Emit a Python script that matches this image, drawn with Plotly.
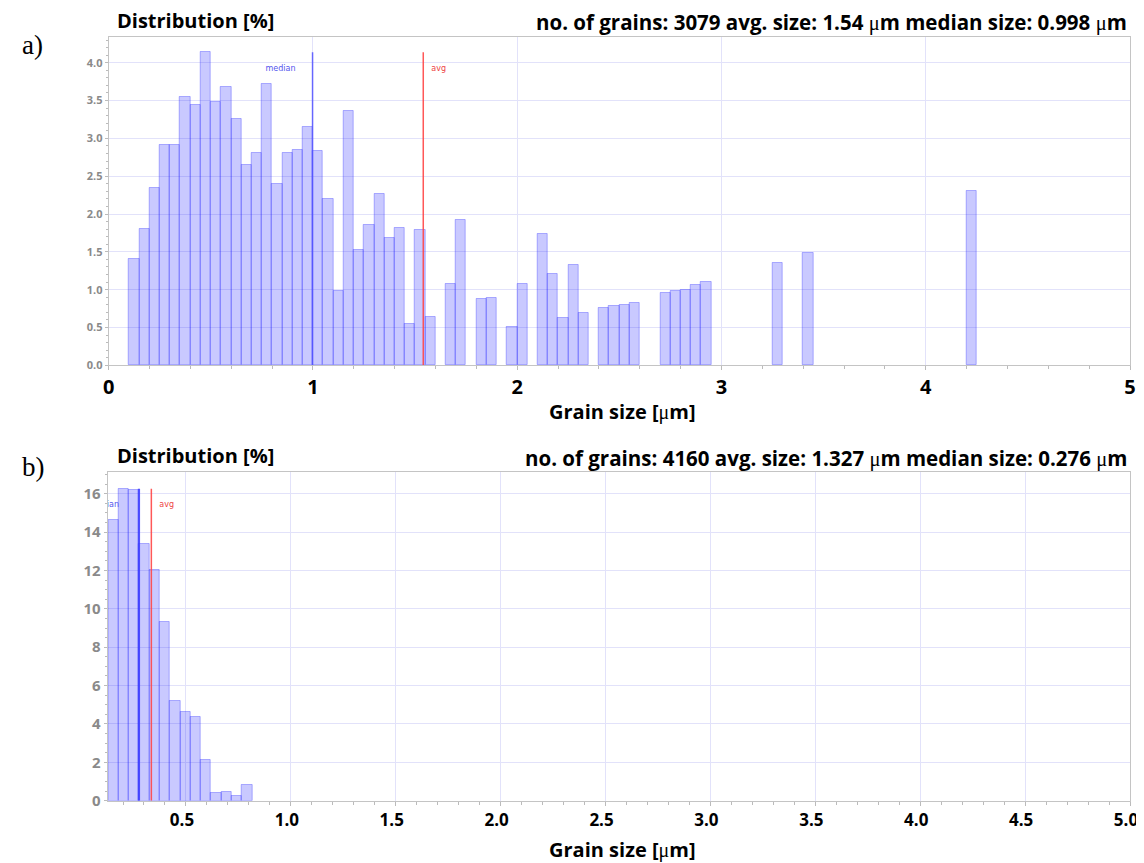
import plotly.graph_objects as go

# ---------------- data ----------------
# a) bins of width 0.05 um (lower edges) and distribution [%]
a_bin_start = [0.10, 0.15, 0.20, 0.25, 0.30, 0.35, 0.40, 0.45, 0.50, 0.55,
               0.60, 0.65, 0.70, 0.75, 0.80, 0.85, 0.90, 0.95, 1.00, 1.05,
               1.10, 1.15, 1.20, 1.25, 1.30, 1.35, 1.40, 1.45, 1.50, 1.55,
               1.65, 1.70, 1.80, 1.85, 1.95, 2.00, 2.10, 2.15, 2.20, 2.25,
               2.30, 2.40, 2.45, 2.50, 2.55, 2.70, 2.75, 2.80, 2.85, 2.90,
               3.25, 3.40, 4.20]
a_values = [1.41, 1.80, 2.34, 2.91, 2.91, 3.55, 3.44, 4.14, 3.48, 3.68,
            3.26, 2.65, 2.81, 3.72, 2.40, 2.81, 2.84, 3.15, 2.83, 2.20,
            0.98, 3.36, 1.52, 1.85, 2.26, 1.68, 1.82, 0.54, 1.79, 0.64,
            1.07, 1.92, 0.88, 0.89, 0.51, 1.07, 1.74, 1.21, 0.62, 1.33,
            0.69, 0.76, 0.78, 0.80, 0.83, 0.95, 0.98, 1.00, 1.06, 1.10,
            1.35, 1.49, 2.30]
a_bin_width = 0.05
a_median = 0.998
a_avg = 1.54
a_stats = "no. of grains: 3079 avg. size: 1.54 {mu}m median size: 0.998 {mu}m"

# b) bins (lower edges) and distribution [%]
b_bin_start = [0.130, 0.179, 0.228, 0.277, 0.326, 0.375, 0.424,
               0.473, 0.522, 0.571, 0.620, 0.669, 0.718, 0.767]
b_values = [14.65, 16.26, 16.17, 13.40, 12.01, 9.32, 5.21,
            4.63, 4.34, 2.12, 0.42, 0.47, 0.24, 0.82]
b_bin_width = 0.049
b_median = 0.276
b_avg_line = 0.335
b_stats = "no. of grains: 4160 avg. size: 1.327 {mu}m median size: 0.276 {mu}m"

# ---------------- style ----------------
W, H = 1144, 863
OFF = 8  # page body margin
MU = '<span style="font-family:Liberation Serif;font-weight:normal">\u03bc</span>'
BAR_FILL = "rgba(0,0,255,0.21)"
BAR_LINE = "rgba(40,40,255,0.33)"
GRID = "#E2E2FA"
AXLINE = "#C4C4C4"
TEXTFONT = "Open Sans"

def px(x):
    return (x - OFF) / W

def py(y):
    return 1 - (y - OFF) / H

fig = go.Figure()

# a) bars
fig.add_trace(go.Bar(
    x=[s + a_bin_width / 2 for s in a_bin_start], y=a_values, width=a_bin_width,
    marker=dict(color=BAR_FILL, line=dict(color=BAR_LINE, width=1)),
    xaxis="x", yaxis="y", showlegend=False, hoverinfo="x+y"))
a_top = max(a_values)
fig.add_trace(go.Scatter(x=[a_median, a_median], y=[0, a_top], mode="lines",
                         line=dict(color="rgba(80,80,255,0.85)", width=1.5),
                         xaxis="x", yaxis="y", showlegend=False))
fig.add_trace(go.Scatter(x=[a_avg, a_avg], y=[0, a_top], mode="lines",
                         line=dict(color="rgba(255,70,70,0.9)", width=1.5),
                         xaxis="x", yaxis="y", showlegend=False))
# labels (a): px offsets converted with 204 px/unit
a_ppu = 204.0
a_label_y = 3.92
fig.add_trace(go.Scatter(x=[a_median - 17 / a_ppu], y=[a_label_y], mode="text", text=["median"],
                         textposition="middle left", cliponaxis=True,
                         textfont=dict(family="DejaVu Sans", size=8, color="#5555ee"),
                         xaxis="x", yaxis="y", showlegend=False))
fig.add_trace(go.Scatter(x=[a_avg + 8 / a_ppu], y=[a_label_y], mode="text", text=["avg"],
                         textposition="middle right", cliponaxis=True,
                         textfont=dict(family="DejaVu Sans", size=8, color="#ee4444"),
                         xaxis="x", yaxis="y", showlegend=False))

# b) bars
fig.add_trace(go.Bar(
    x=[s + b_bin_width / 2 for s in b_bin_start], y=b_values, width=b_bin_width,
    marker=dict(color=BAR_FILL, line=dict(color=BAR_LINE, width=1)),
    xaxis="x2", yaxis="y2", showlegend=False, hoverinfo="x+y"))
b_top = max(b_values)
fig.add_trace(go.Scatter(x=[b_median, b_median], y=[0, b_top], mode="lines",
                         line=dict(color="rgba(60,60,255,0.9)", width=2.2),
                         xaxis="x2", yaxis="y2", showlegend=False))
fig.add_trace(go.Scatter(x=[b_avg_line, b_avg_line], y=[0, b_top], mode="lines",
                         line=dict(color="rgba(255,70,70,0.9)", width=1.5),
                         xaxis="x2", yaxis="y2", showlegend=False))
b_ppu = 210.0
b_label_y = 15.4
fig.add_trace(go.Scatter(x=[b_median - 20 / b_ppu], y=[b_label_y], mode="text", text=["median"],
                         textposition="middle left", cliponaxis=True,
                         textfont=dict(family="DejaVu Sans", size=8, color="#5555ee"),
                         xaxis="x2", yaxis="y2", showlegend=False))
fig.add_trace(go.Scatter(x=[b_avg_line + 8 / b_ppu], y=[b_label_y], mode="text", text=["avg"],
                         textposition="middle right", cliponaxis=True,
                         textfont=dict(family="DejaVu Sans", size=8, color="#ee4444"),
                         xaxis="x2", yaxis="y2", showlegend=False))

common_x = dict(showgrid=True, gridcolor=GRID, gridwidth=1, zeroline=False,
                showline=True, linecolor=AXLINE, linewidth=1, mirror=True,
                ticks="outside", ticklen=4, tickcolor="#BBBBBB", automargin=False)
common_y = dict(showgrid=True, gridcolor=GRID, gridwidth=1, zeroline=False,
                showline=True, linecolor=AXLINE, linewidth=1, mirror=True,
                ticks="outside", ticklen=3, tickcolor="#BBBBBB", automargin=False)

fig.update_layout(
    width=W, height=H, margin=dict(l=0, r=0, t=0, b=0, autoexpand=False),
    paper_bgcolor="white", plot_bgcolor="white", bargap=0,
    xaxis=dict(common_x, domain=[px(108.7), px(1130)], anchor="y",
               range=[0, 5], dtick=1, tick0=0,
               tickfont=dict(family=TEXTFONT, size=20, color="black", weight="bold"),
               minor=dict(dtick=0.2, ticks="outside", ticklen=3, tickcolor="#BBBBBB", showgrid=False)),
    yaxis=dict(common_y, domain=[py(365.3), py(37)], anchor="x",
               range=[0, 4.34], dtick=0.5, tick0=0, tickformat=".1f",
               tickfont=dict(family=TEXTFONT, size=11, color="#8a8a8a", weight="bold"),
               minor=dict(dtick=0.1, ticks="outside", ticklen=2, tickcolor="#BBBBBB", showgrid=False)),
    xaxis2=dict(common_x, domain=[px(107.7), px(1130)], anchor="y2",
                range=[0.127, 5.0], dtick=0.5, tick0=0, tickformat=".1f",
                ticklabelshift=-4,
                tickfont=dict(family=TEXTFONT, size=17, color="black", weight="bold"),
                minor=dict(dtick=0.1, ticks="outside", ticklen=3, tickcolor="#BBBBBB", showgrid=False)),
    yaxis2=dict(common_y, domain=[py(800.7), py(472)], anchor="x2",
                range=[0, 17.13], dtick=2, tick0=0,
                tickfont=dict(family=TEXTFONT, size=15, color="#8a8a8a", weight="bold"),
                minor=dict(dtick=0.5, ticks="outside", ticklen=2, tickcolor="#BBBBBB", showgrid=False)),
)

title_font = dict(family=TEXTFONT, size=20, color="black")
stats_font = dict(family=TEXTFONT, size=20.5, color="black")
panel_font = dict(family="Liberation Serif", size=27, color="black")
ann = []
for label, y_lab, y_dist, y_stat, y_title, stats in [
        ("a)", 45, 21, 22, 411, a_stats), ("b)", 467, 456, 458, 849, b_stats)]:
    ann.append(dict(text=label, x=px(20), y=py(y_lab), xref="paper", yref="paper",
                    xanchor="left", yanchor="middle", showarrow=False, font=panel_font))
    ann.append(dict(text="<b>Distribution [%]</b>", x=px(115), y=py(y_dist), xref="paper", yref="paper",
                    xanchor="left", yanchor="middle", showarrow=False, font=title_font))
    ann.append(dict(text="<b>" + stats.format(mu=MU) + "</b>", x=px(1129), y=py(y_stat),
                    xref="paper", yref="paper", xanchor="right", yanchor="middle",
                    showarrow=False, font=stats_font))
    ann.append(dict(text="<b>Grain size [" + MU + "m]</b>", x=px(622), y=py(y_title),
                    xref="paper", yref="paper", xanchor="center", yanchor="middle",
                    showarrow=False, font=title_font))
fig.update_layout(annotations=ann)

fig.write_html("out.html")
